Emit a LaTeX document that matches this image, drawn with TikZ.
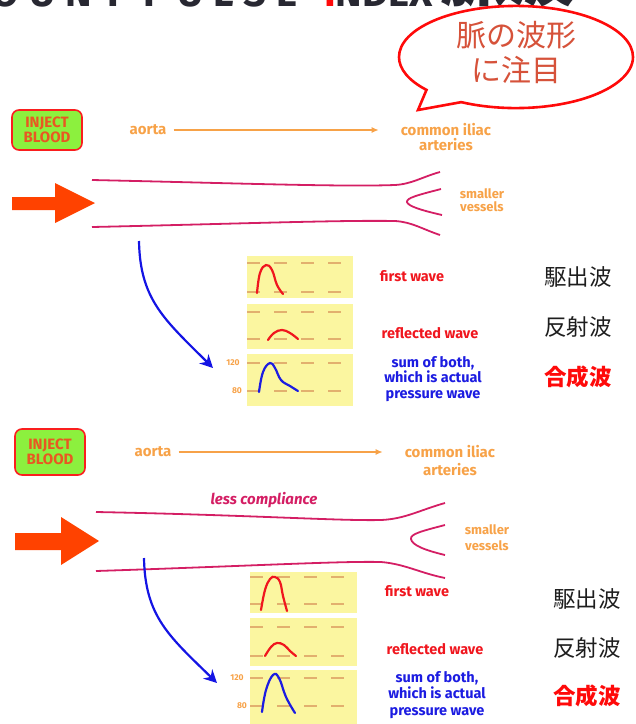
\documentclass[tikz,border=0pt]{standalone}
\usepackage{fontspec}
\setmainfont{Fira Sans}
\newfontfamily\jpfont{Noto Sans CJK JP}
\usepackage{xcolor}
\usetikzlibrary{arrows.meta,positioning,shapes.geometric,shapes.callouts,calc}

\definecolor{titlegray}{RGB}{40,40,50}
\definecolor{notered}{RGB}{255,10,10}
\definecolor{notetext}{RGB}{214,82,58}
\definecolor{injred}{RGB}{250,30,30}
\definecolor{injgreen}{RGB}{140,240,62}
\definecolor{injtext}{RGB}{232,88,34}
\definecolor{vesselred}{RGB}{212,30,100}
\definecolor{flowora}{RGB}{247,162,72}
\definecolor{bigarrow}{RGB}{255,66,0}
\definecolor{pushblue}{RGB}{20,20,228}
\definecolor{panelyel}{RGB}{251,246,160}
\definecolor{gridtan}{RGB}{226,176,110}
\definecolor{wavered}{RGB}{240,22,30}
\definecolor{waveblue}{RGB}{28,28,225}
\definecolor{jpblack}{RGB}{30,30,30}

\begin{document}
\begin{tikzpicture}[
x=1pt,
y=-1pt,
every node/.style={inner sep=0pt,align=center,font=\bfseries\fontsize{15}{15}\selectfont},
inject/.style={rectangle,rounded corners=7pt,draw=injred,line width=1.6pt,fill=injgreen,text=injtext,minimum width=70pt,minimum height=40pt,font=\bfseries\fontsize{15}{15}\selectfont},
vessel/.style={draw=vesselred,line width=1.8pt},
orglbl/.style={text=flowora},
small/.style={text=flowora,font=\bfseries\fontsize{13}{13}\selectfont},
tick/.style={text=flowora,font=\bfseries\fontsize{8.5}{8.5}\selectfont},
flow/.style={-{Latex[length=7pt,width=6pt]},draw=flowora,line width=1.2pt},
push/.style={-{Stealth[length=13pt,width=13pt]},draw=pushblue,line width=2.2pt},
panel/.style={fill=panelyel},
grid/.style={draw=gridtan,line width=1.2pt,dash pattern=on 13pt off 14pt},
wave/.style={line width=2.2pt,line cap=round},
redlbl/.style={text=wavered,font=\bfseries\fontsize{14.5}{15.5}\selectfont},
bluelbl/.style={text=waveblue,font=\bfseries\fontsize{14.5}{15.5}\selectfont},
jp/.style={text=jpblack,font=\jpfont\fontsize{22.5}{24}\selectfont},
headline/.style={text=titlegray,font=\bfseries\fontsize{40}{40}\selectfont},
bubble/.style={ellipse callout,draw=notered,line width=2.6pt,fill=white,minimum width=234pt,minimum height=92pt,callout pointer arc=22,text=notetext,text depth=12pt,font=\jpfont\fontsize{30}{35}\selectfont}
]
\useasboundingbox (0,0) rectangle (636,724);

% heading, only its foot shows
\node[headline,anchor=base east] (headfirst) at (124,6) {\addfontfeature{LetterSpace=25}COUNT};
\node[headline,anchor=base west] (head) at (143,6) {\addfontfeature{LetterSpace=25}PULSE};
\node[headline,anchor=base west] (headidx) at (324,6) {\textcolor{notered}{I}NDEX};
\node[anchor=base west,text=titlegray,font=\jpfont\bfseries\fontsize{68}{68}\selectfont] (headjp) at (440,0) {脈波};

% callout
\node[bubble,callout absolute pointer={(418,110)}] (note) at (516,57) {脈の波形\\に注目};

% ---- normal aorta ----
\node[inject] (injecttop) at (47,130) {INJECT\\BLOOD};
\node[orglbl] (aortatop) at (148,130) {aorta};
\node[orglbl] (iliactop) at (446,137) {common iliac\\arteries};
\node[small] (smalltop) at (482,200) {smaller\\vessels};
\draw[flow,shorten <=7pt,shorten >=22pt] (aortatop.east) -- (aortatop.east -| iliactop.west);

\fill[bigarrow] (12,197) -- (55,197) -- (55,183) -- (95,203) -- (55,223) -- (55,210) -- (12,210) -- cycle;
\draw[vessel] (92,180) .. controls (230,183) and (340,187) .. (395,185) .. controls (412,184) and (422,177) .. (440,172);
\draw[vessel] (92,227) .. controls (230,224) and (340,220) .. (395,221) .. controls (412,222) and (422,229) .. (440,235);
\draw[vessel] (441,189) .. controls (418,195) and (406,198) .. (407,202) .. controls (408,206) and (420,210) .. (442,215);

\node[panel,anchor=north west,minimum width=106pt,minimum height=42pt] (firsttop) at (247,256) {};
\node[panel,anchor=north west,minimum width=106pt,minimum height=45pt] (refltop) at (247,304) {};
\node[panel,anchor=north west,minimum width=106pt,minimum height=52pt] (sumtop) at (247,354) {};
\draw[grid] (247,263) -- (353,263);
\draw[grid] (247,292) -- (353,292);
\draw[grid] (247,312) -- (353,312);
\draw[grid] (247,339) -- (353,339);
\draw[grid] (247,363) -- (353,363);
\draw[grid] (247,391) -- (353,391);
\node[tick] (hitop) at (233,363) {120};
\node[tick] (lotop) at (237,391) {80};
\draw[wave,wavered] plot[smooth,tension=0.7] coordinates {(257,293) (260,273) (266,265) (272,270) (277,285) (283,294)};
\draw[wave,wavered] plot[smooth,tension=0.7] coordinates {(268,340) (274,333) (282,330) (290,333) (298,339)};
\draw[wave,waveblue] plot[smooth,tension=0.7] coordinates {(259,392) (263,372) (270,363) (275,368) (281,380) (290,386) (298,391)};

\node[redlbl] (firstlbltop) at (412,276) {first wave};
\node[redlbl] (refllbltop) at (430,333) {reflected wave};
\node[bluelbl] (sumlbltop) at (433,379) {sum of both,\\which is actual\\pressure wave};
\node[jp] (ejecttop) at (578,277) {駆出波};
\node[jp] (reflecttop) at (578,327) {反射波};
\node[jp,text=notered,font=\jpfont\bfseries\fontsize{22.5}{24}\selectfont] (combtop) at (578,377) {合成波};

\coordinate (forktop) at (139,241);
\coordinate (hittop) at (213,368);
\draw[push] (forktop) .. controls (140,300) and (165,320) .. (hittop);

% ---- stiff aorta ----
\node[inject,minimum height=46pt] (injectlow) at (50,452) {INJECT\\BLOOD};
\node[orglbl] (aortalow) at (153,452) {aorta};
\node[orglbl,font=\bfseries\fontsize{15}{18}\selectfont] (iliaclow) at (450,461) {common iliac\\arteries};
\node[text=vesselred,font=\bfseries\itshape\fontsize{15}{15}\selectfont] (stiff) at (264,500) {less compliance};
\node[small,font=\bfseries\fontsize{13}{16}\selectfont] (smalllow) at (487,538) {smaller\\vessels};
\draw[flow,shorten <=7pt,shorten >=22pt] (aortalow.east) -- (aortalow.east -| iliaclow.west);

\fill[bigarrow] (15,533) -- (61,533) -- (61,517) -- (99,541) -- (61,565) -- (61,550) -- (15,550) -- cycle;
\draw[vessel] (96,512) .. controls (250,515) and (340,521) .. (381,520) .. controls (405,519) and (420,510) .. (445,503);
\draw[vessel] (96,571) .. controls (250,566) and (340,561) .. (381,562) .. controls (405,564) and (420,573) .. (445,578);
\draw[vessel] (445,525) .. controls (422,531) and (410,534) .. (411,539) .. controls (412,545) and (424,550) .. (445,555);

\node[panel,anchor=north west,minimum width=107pt,minimum height=41pt] (firstlow) at (250,572) {};
\node[panel,anchor=north west,minimum width=107pt,minimum height=48pt] (refllow) at (250,618) {};
\node[panel,anchor=north west,minimum width=107pt,minimum height=54pt] (sumlow) at (250,670) {};
\draw[grid] (250,577) -- (357,577);
\draw[grid] (250,604) -- (357,604);
\draw[grid] (250,627) -- (357,627);
\draw[grid] (250,656) -- (357,656);
\draw[grid] (250,678) -- (357,678);
\draw[grid] (250,706) -- (357,706);
\node[tick] (hilow) at (237,678) {120};
\node[tick] (lolow) at (242,706) {80};
\draw[wave,wavered] plot[smooth,tension=0.7] coordinates {(261,610) (265,590) (270,579) (275,577) (280,582) (283,596) (287,611)};
\draw[wave,wavered] plot[smooth,tension=0.7] coordinates {(265,656) (271,647) (277,643) (284,645) (290,651) (296,656)};
\draw[wave,waveblue] plot[smooth,tension=0.7] coordinates {(262,712) (266,690) (273,675) (279,678) (286,697) (295,713)};

\node[redlbl] (firstlbllow) at (417,591) {first wave};
\node[redlbl] (refllbllow) at (435,649) {reflected wave};
\node[bluelbl,font=\bfseries\fontsize{14.5}{16.5}\selectfont] (sumlbllow) at (437,695) {sum of both,\\which is actual\\pressure wave};
\node[jp] (ejectlow) at (587,599) {駆出波};
\node[jp] (reflectlow) at (587,648) {反射波};
\node[jp,text=notered,font=\jpfont\bfseries\fontsize{22.5}{24}\selectfont] (comblow) at (587,696) {合成波};

\coordinate (forklow) at (144,558);
\coordinate (hitlow) at (217,683);
\draw[push] (forklow) .. controls (145,617) and (170,637) .. (hitlow);
\end{tikzpicture}
\end{document}
